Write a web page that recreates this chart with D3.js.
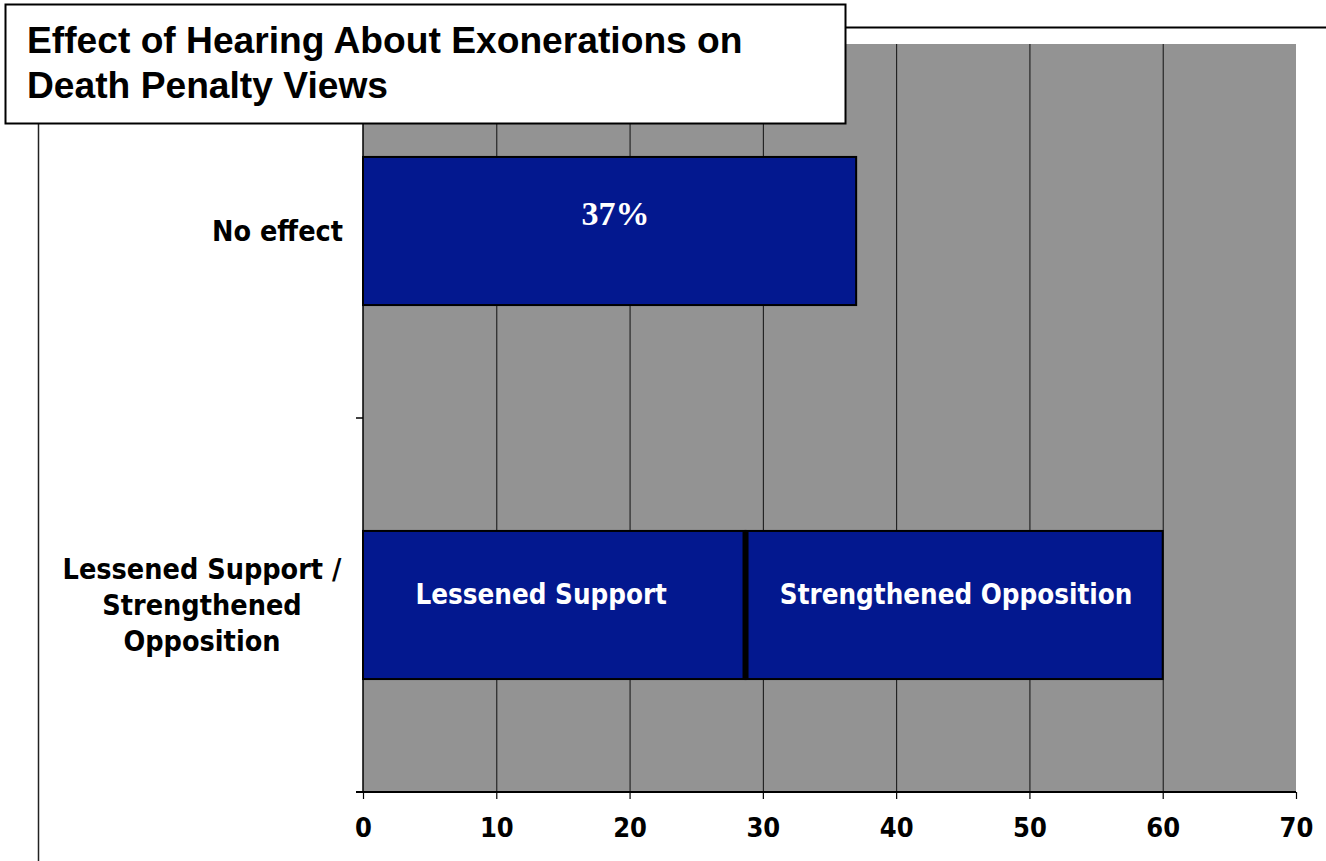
<!DOCTYPE html>
<html>
<head>
<meta charset="utf-8">
<script src="https://cdn.jsdelivr.net/npm/d3@7/dist/d3.min.js"></script>
<style>
  html, body { margin: 0; padding: 0; background: #fff; }
  svg { display: block; }
</style>
</head>
<body>
<svg id="chart" width="1326" height="861"></svg>
<script>
const titleLines = ["Effect of Hearing About Exonerations on", "Death Penalty Views"];
const categories = ["No effect", "Lessened Support / Strengthened Opposition"];
const categoryLines = [["No effect"], ["Lessened Support /", "Strengthened", "Opposition"]];
const segmentNames = ["Lessened Support", "Strengthened Opposition"];
const noEffectValue = [37];
const lessenedValues = [28.7];
const strengthenedValues = [31.3];
const xTicks = [0, 10, 20, 30, 40, 50, 60, 70];

const svg = d3.select("#chart");
const m = {left: 363, right: 1296, top: 44, bottom: 792};
const barColor = "#03188f";
const labelFont = "'DejaVu Sans Condensed', 'DejaVu Sans', sans-serif";

const x = d3.scaleLinear().domain([0, 70]).range([m.left, m.right]);
const y = d3.scaleBand().domain(categories).range([m.top, m.bottom]);
const barH = y.bandwidth() * 0.396;
const barY = c => y(c) + (y.bandwidth() - barH) / 2;

// plot background
svg.append("rect").attr("x", m.left).attr("y", m.top)
  .attr("width", m.right - m.left).attr("height", m.bottom - m.top)
  .attr("fill", "#939393");

// gridlines
svg.append("g").selectAll("line").data(xTicks.filter(t => t > 0 && t < 70)).join("line")
  .attr("x1", d => x(d) + 0.5).attr("x2", d => x(d) + 0.5)
  .attr("y1", m.top).attr("y2", m.bottom)
  .attr("stroke", "#111").attr("stroke-width", 1);

// bars
const segs = [
  {cat: categories[0], x0: 0, x1: noEffectValue[0], label: noEffectValue[0] + "%", serif: true},
  {cat: categories[1], x0: 0, x1: lessenedValues[0], label: segmentNames[0]},
  {cat: categories[1], x0: lessenedValues[0], x1: lessenedValues[0] + strengthenedValues[0], label: segmentNames[1]}
];
svg.append("g").selectAll("rect").data(segs).join("rect")
  .attr("x", d => x(d.x0)).attr("y", d => barY(d.cat))
  .attr("width", d => x(d.x1) - x(d.x0)).attr("height", barH)
  .attr("fill", barColor).attr("stroke", "#000").attr("stroke-width", 2);

// thick divider between stacked segments
svg.append("line")
  .attr("x1", x(lessenedValues[0])).attr("x2", x(lessenedValues[0]))
  .attr("y1", barY(categories[1])).attr("y2", barY(categories[1]) + barH)
  .attr("stroke", "#000").attr("stroke-width", 6);

// bar labels
svg.append("g").selectAll("text").data(segs).join("text")
  .attr("x", d => (x(d.x0) + x(d.x1)) / 2 + (d.serif ? 6 : (d.x0 === 0 ? -13 : 2)))
  .attr("y", d => d.serif ? barY(d.cat) + 68 : barY(d.cat) + 73)
  .attr("text-anchor", "middle")
  .attr("fill", "#fff")
  .attr("font-family", d => d.serif ? "'Liberation Serif', 'Times New Roman', serif" : labelFont)
  .attr("font-weight", "bold")
  .attr("font-size", d => d.serif ? 34 : 27.5)
  .text(d => d.label);

// x axis
const xAxis = d3.axisBottom(x).tickValues(xTicks).tickSize(7).tickPadding(19).tickSizeOuter(0);
const gx = svg.append("g").attr("transform", `translate(0,${m.bottom})`).call(xAxis);
gx.select(".domain").remove();
gx.selectAll(".tick line").attr("stroke", "#000").attr("stroke-width", 1.2);
gx.selectAll(".tick text").attr("font-family", labelFont).attr("font-weight", "bold")
  .attr("font-size", 27).attr("fill", "#000");
svg.append("line").attr("x1", m.left - 7).attr("x2", m.right).attr("y1", m.bottom).attr("y2", m.bottom)
  .attr("stroke", "#000").attr("stroke-width", 2);

// y axis line and ticks between categories
svg.append("line").attr("x1", m.left).attr("x2", m.left).attr("y1", m.top).attr("y2", m.bottom)
  .attr("stroke", "#000").attr("stroke-width", 1.5);
svg.append("g").selectAll("line").data(categories).join("line")
  .attr("x1", m.left - 7).attr("x2", m.left)
  .attr("y1", d => y(d) + y.bandwidth()).attr("y2", d => y(d) + y.bandwidth())
  .attr("stroke", "#000").attr("stroke-width", 1.5);

// category labels
categories.forEach((c, i) => {
  const lines = categoryLines[i];
  const cy = y(c) + y.bandwidth() / 2;
  const single = lines.length === 1;
  const t = svg.append("text")
    .attr("font-family", labelFont).attr("font-weight", "bold").attr("font-size", 28.5)
    .attr("fill", "#000")
    .attr("text-anchor", single ? "end" : "middle");
  lines.forEach((ln, j) => {
    t.append("tspan")
      .attr("x", single ? 343 : 202)
      .attr("y", cy + 9.5 + (j - (lines.length - 1) / 2) * 36)
      .text(ln);
  });
});

// decorative frame lines
svg.append("line").attr("x1", 846).attr("x2", 1326).attr("y1", 27.5).attr("y2", 27.5)
  .attr("stroke", "#000").attr("stroke-width", 2);
svg.append("line").attr("x1", 38.5).attr("x2", 38.5).attr("y1", 124).attr("y2", 861)
  .attr("stroke", "#222").attr("stroke-width", 1.5);

// title box
svg.append("rect").attr("x", 5.5).attr("y", 4.5).attr("width", 840).attr("height", 119)
  .attr("fill", "#fff").attr("stroke", "#000").attr("stroke-width", 2);
const tt = svg.append("text").attr("font-family", "'Liberation Sans', Arial, sans-serif")
  .attr("font-weight", "bold").attr("font-size", 37.2).attr("fill", "#000");
titleLines.forEach((ln, i) => {
  tt.append("tspan").attr("x", 27).attr("y", 53 + i * 45).text(ln);
});
</script>
</body>
</html>
